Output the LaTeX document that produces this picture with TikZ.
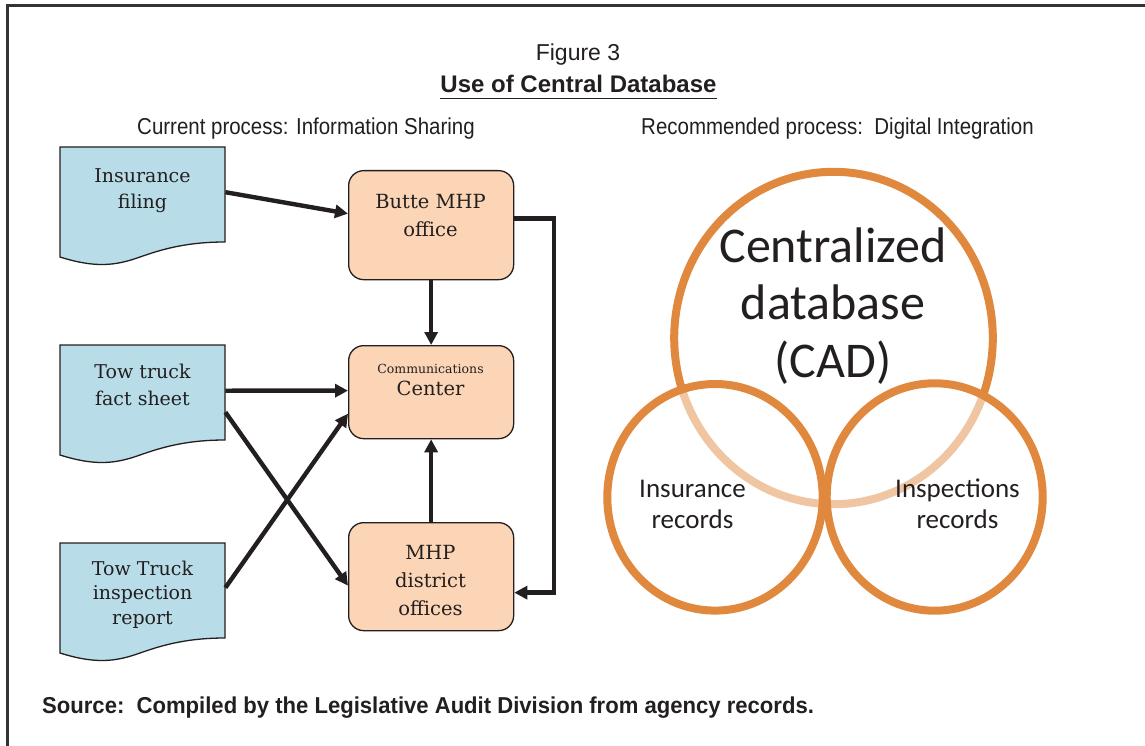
\documentclass[tikz,border=0pt]{standalone}
\usepackage{fontspec}
\setmainfont{Liberation Sans}
\newfontfamily\narrowfont{Liberation Sans}[FakeStretch=0.89]
\newfontfamily\narrowbold{Liberation Sans Bold}[FakeStretch=0.96]
\newfontfamily\slabfont{DejaVu Serif}
\newfontfamily\calfont{Carlito}
\usetikzlibrary{arrows.meta,shapes.geometric}
\definecolor{docblue}{HTML}{B8DDE8}
\definecolor{boxorange}{HTML}{FBD5B5}
\definecolor{ringorange}{HTML}{E0883E}
\definecolor{ink}{HTML}{231F20}
\definecolor{framegray}{HTML}{333333}

\begin{document}
\begin{tikzpicture}[x=1pt,y=-1pt,
  docframe/.style={draw=ink, line width=1.3pt, fill=docblue},
  docnode/.style={rectangle, inner sep=0pt, minimum width=165pt, minimum height=95pt, anchor=north west},
  doctext/.style={font=\slabfont\fontsize{19}{26}\selectfont, align=center, anchor=base, inner sep=0pt, text=ink},
  procbox/.style={rectangle, rounded corners=15pt, draw=ink, line width=1.3pt, fill=boxorange, minimum width=165pt, inner sep=0pt, anchor=north west},
  boxtext/.style={font=\slabfont\fontsize{19.5}{28}\selectfont, align=center, anchor=base, inner sep=0pt, text=ink},
  flow/.style={draw=ink, line width=4.4pt, -{Triangle[length=13pt,width=13pt]}},
  ring/.style={ellipse, draw=ringorange, line width=8pt, inner sep=0pt},
  veil/.style={fill=white, fill opacity=0.52},
  bigtext/.style={font=\calfont\fontsize{50}{57.5}\selectfont, align=center, anchor=base, inner sep=0pt, text=ink},
  smalltext/.style={font=\calfont\fontsize{27}{31}\selectfont, align=center, anchor=base, inner sep=0pt, text=ink},
  heading/.style={anchor=base, inner sep=0pt, text=ink}
]
\useasboundingbox (0,0) rectangle (1145,746);
\fill[white] (0,0) rectangle (1145,746);

% frame
\draw[framegray, line width=3pt] (7.3,746) -- (7.3,5.3) -- (1145,5.3);

% headings
\node[heading, font=\fontsize{23}{27}\selectfont] (fig) at (578,61) {Figure 3};
\node[heading, font=\bfseries\fontsize{24}{28}\selectfont] (title) at (578.5,93) {Use of Central Database};
\draw[ink, line width=1.6pt] ([yshift=-5.5pt]title.base west) -- ([yshift=-5.5pt]title.base east);
\node[heading, font=\narrowfont\fontsize{23}{27}\selectfont] (cur) at (306,135) {Current process: Information Sharing};
\node[heading, font=\narrowfont\fontsize{23}{27}\selectfont] (rec) at (837.5,135) {Recommended process:\ \ Digital Integration};
\node[heading, anchor=base west, font=\narrowbold\fontsize{23}{27}\selectfont] (src) at (42,713) {Source:\ \ Compiled by the Legislative Audit Division from agency records.};

% documents
\path[docframe] (60,147) -- (225,147) -- (225,242)
    .. controls (185,242) and (160,250) .. (140,257)
    .. controls (115,266) and (95,268) .. (60,257) -- cycle;
\path[docframe] (60,345) -- (225,345) -- (225,440)
    .. controls (185,440) and (160,448) .. (140,455)
    .. controls (115,464) and (95,466) .. (60,455) -- cycle;
\path[docframe] (60,543) -- (225,543) -- (225,638)
    .. controls (185,638) and (160,646) .. (140,653)
    .. controls (115,662) and (95,664) .. (60,653) -- cycle;
\node[docnode] (docins) at (60,147) {};
\node[docnode] (docfact) at (60,345) {};
\node[docnode] (docinsp) at (60,543) {};
\node[doctext] at (142.5,208) {Insurance\\filing};
\node[doctext, font=\slabfont\fontsize{19}{27}\selectfont] at (142.5,405) {Tow truck\\fact sheet};
\node[doctext, font=\slabfont\fontsize{19}{24.5}\selectfont] at (142.5,624) {Tow Truck\\inspection\\report};

% process boxes
\node[procbox, minimum height=109pt] (butte) at (348,170) {};
\node[procbox, minimum height=93pt] (comm) at (348,345) {};
\node[procbox, minimum height=108pt] (dist) at (348,522) {};
\node[boxtext] at (430.5,236) {Butte MHP\\office};
\node[boxtext, font=\slabfont\fontsize{19.5}{22}\selectfont] at (430.5,395) {{\fontsize{12.5}{14}\selectfont Communications}\\Center};
\node[boxtext] at (430.5,615) {MHP\\district\\offices};

% connectors
\draw[flow] ([yshift=2.5pt]docins.east) -- ([yshift=11.5pt]butte.west);
\draw[flow] (butte.south) -- (comm.north);
\draw[flow] ([yshift=2pt]docfact.east) -- ([yshift=1.5pt]comm.west);
\draw[flow] ([yshift=-19.5pt]docfact.east) -- ([yshift=-9pt]dist.west);
\draw[flow] ([yshift=3pt]docinsp.east) -- ([yshift=-21.5pt]comm.west);
\draw[flow] (dist.north) -- (comm.south);
\coordinate (bend) at (554,470);
\draw[flow] ([yshift=6.5pt]butte.east) -| (bend) |- ([yshift=-16pt]dist.east);

% rings
\node[ring, minimum width=318.6pt, minimum height=332.4pt] (cad) at (833.5,338) {};
\fill[veil] (715,497.3) ellipse [x radius=107.7, y radius=113.3];
\fill[veil] (934.7,497) ellipse [x radius=108, y radius=113.7];
\node[ring, minimum width=215.4pt, minimum height=226.6pt] (insrec) at (715,497.3) {};
\node[ring, minimum width=216pt, minimum height=227.4pt] (insprec) at (934.7,497) {};

\node[bigtext] at (833,377) {Centralized\\database\\(CAD)};
\node[smalltext] at (692.5,528) {Insurance\\records};
\node[smalltext] at (957.5,528) {Inspections\\records};
\end{tikzpicture}
\end{document}
